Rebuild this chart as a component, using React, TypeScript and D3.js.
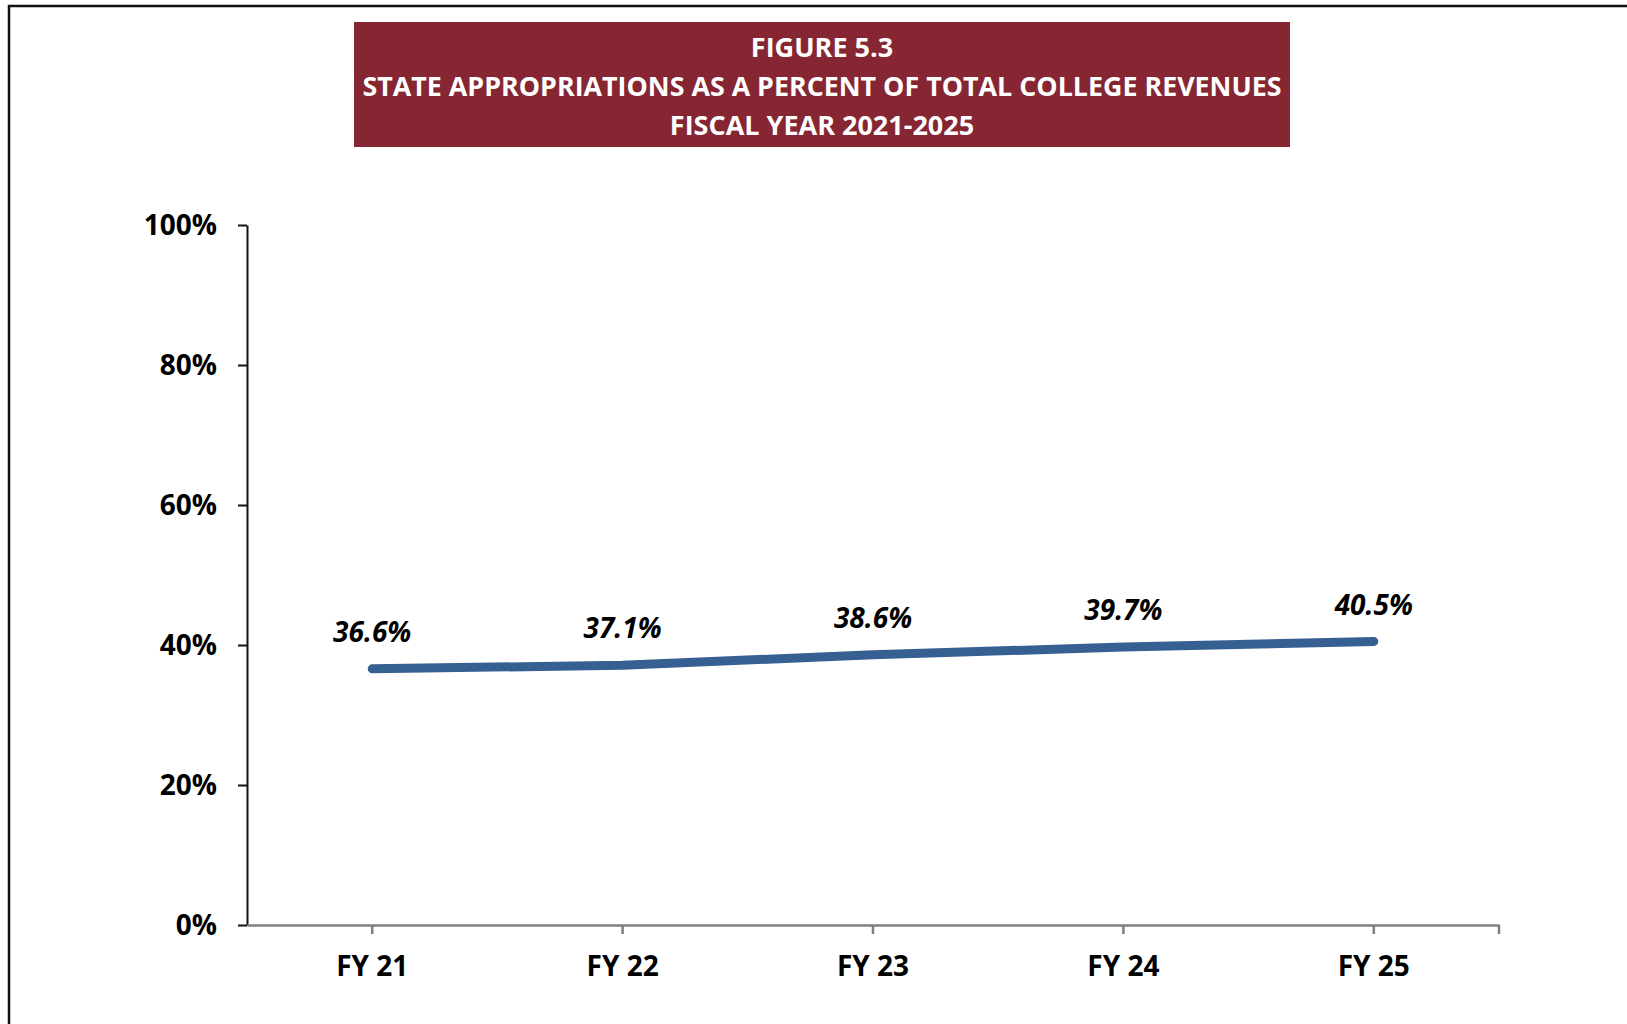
import React, { useEffect, useRef } from 'react';
import * as d3 from 'd3';

const categories: string[] = ['FY 21', 'FY 22', 'FY 23', 'FY 24', 'FY 25'];
const shareValues: number[] = [36.6, 37.1, 38.6, 39.7, 40.5];
const yTicks: number[] = [0, 20, 40, 60, 80, 100];
const titleLines: string[] = [
    'FIGURE 5.3',
    'STATE APPROPRIATIONS AS A PERCENT OF TOTAL COLLEGE REVENUES',
    'FISCAL YEAR 2021-2025',
];

const width = 1627;
const height = 1024;
const fontFamily = '"Open Sans", "DejaVu Sans", sans-serif';

const App: React.FC = () => {
    const svgRef = useRef<SVGSVGElement | null>(null);

    useEffect(() => {
        const margin = { top: 225, right: 128, bottom: 99, left: 247 };

        const svg = d3.select(svgRef.current)
            .attr('width', width)
            .attr('height', height);

        svg.selectAll('*').remove();

        svg.append('rect')
            .attr('width', width)
            .attr('height', height)
            .attr('fill', '#fff');

        // frame (top + left edges only)
        svg.append('path')
            .attr('d', `M9,${height} V6 H${width}`)
            .attr('fill', 'none')
            .attr('stroke', '#111')
            .attr('stroke-width', 2.5);

        // title banner
        svg.append('rect')
            .attr('x', 354)
            .attr('y', 22)
            .attr('width', 936)
            .attr('height', 125)
            .attr('fill', '#862633');

        svg.append('g')
            .selectAll('text')
            .data(titleLines)
            .join('text')
            .attr('x', 822)
            .attr('y', (_, i) => 57 + i * 39)
            .attr('text-anchor', 'middle')
            .attr('fill', '#fff')
            .attr('font-family', fontFamily)
            .attr('font-weight', 'bold')
            .attr('font-size', 27)
            .attr('textLength', (_, i) => (i === 1 ? 919 : null))
            .attr('lengthAdjust', 'spacingAndGlyphs')
            .text(d => d);

        // scales
        const xScale = d3.scaleBand<string>()
            .domain(categories)
            .range([margin.left, width - margin.right]);

        const yScale = d3.scaleLinear()
            .domain([0, 100])
            .range([height - margin.bottom, margin.top]);

        const xPos = (c: string) => (xScale(c) as number) + xScale.bandwidth() / 2;

        // y axis
        const yAxis = svg.append('g')
            .attr('transform', `translate(${margin.left},0)`)
            .call(d3.axisLeft(yScale).tickValues(yTicks).tickSize(9).tickSizeOuter(0).tickFormat(d => `${d}%`));
        yAxis.select('.domain').attr('stroke', '#111').attr('stroke-width', 2);
        yAxis.selectAll('.tick line').attr('stroke', '#111').attr('stroke-width', 2);
        yAxis.selectAll('.tick text')
            .attr('x', -30)
            .attr('dy', '0.35em')
            .attr('fill', '#000')
            .attr('font-family', fontFamily)
            .attr('font-weight', 'bold')
            .attr('font-size', 28);

        // x axis
        const xAxis = svg.append('g')
            .attr('transform', `translate(0,${height - margin.bottom})`)
            .call(d3.axisBottom(xScale).tickSize(0).tickSizeOuter(0));
        xAxis.select('.domain').attr('stroke', '#7f7f7f').attr('stroke-width', 2.5);
        xAxis.selectAll('.tick text')
            .attr('y', 51)
            .attr('dy', 0)
            .attr('fill', '#000')
            .attr('font-family', fontFamily)
            .attr('font-weight', 'bold')
            .attr('font-size', 28);

        // tick marks at category centres and the right end
        const tickXs = [...categories.map(xPos), width - margin.right];
        svg.append('g')
            .selectAll('line')
            .data(tickXs)
            .join('line')
            .attr('x1', d => d)
            .attr('x2', d => d)
            .attr('y1', height - margin.bottom)
            .attr('y2', height - margin.bottom + 9)
            .attr('stroke', '#7f7f7f')
            .attr('stroke-width', 2.5);

        // line
        const line = d3.line<number>()
            .x((_, i) => xPos(categories[i]))
            .y(d => yScale(d));

        svg.append('path')
            .datum(shareValues)
            .attr('fill', 'none')
            .attr('stroke', '#376092')
            .attr('stroke-width', 9)
            .attr('stroke-linecap', 'round')
            .attr('stroke-linejoin', 'round')
            .attr('d', line);

        // data labels
        svg.append('g')
            .selectAll('text')
            .data(shareValues)
            .join('text')
            .attr('x', (_, i) => xPos(categories[i]))
            .attr('y', d => yScale(d) - 27)
            .attr('text-anchor', 'middle')
            .attr('fill', '#000')
            .attr('font-family', fontFamily)
            .attr('font-weight', 'bold')
            .attr('font-style', 'italic')
            .attr('font-size', 28)
            .text(d => `${d.toFixed(1)}%`);
    }, []);

    return <svg ref={svgRef} style={{ position: 'absolute', left: 0, top: 0 }}></svg>;
};

export default App;
